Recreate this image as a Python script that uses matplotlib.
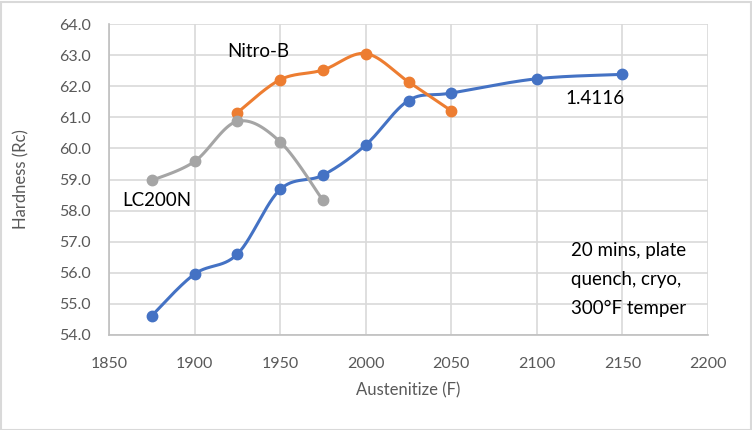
import numpy as np
import matplotlib
matplotlib.use("Agg")
from matplotlib import pyplot as plt
from matplotlib.patches import Rectangle

# data
temps_1 = [1875, 1900, 1925, 1950, 1975, 2000, 2025, 2050, 2100, 2150]
hard_1 = [54.62, 55.96, 56.60, 58.68, 59.14, 60.11, 61.54, 61.78, 62.24, 62.38]

temps_nitro = [1925, 1950, 1975, 2000, 2025, 2050]
hard_nitro = [61.15, 62.21, 62.52, 63.05, 62.14, 61.21]

temps_lc = [1875, 1900, 1925, 1950, 1975]
hard_lc = [58.97, 59.58, 60.87, 60.21, 58.33]

x_ticks = [1850, 1900, 1950, 2000, 2050, 2100, 2150, 2200]
y_ticks = [54, 55, 56, 57, 58, 59, 60, 61, 62, 63, 64]


def smooth(xs, ys, n=30):
    # Excel-style smoothed line: Catmull-Rom segments drawn as cubic Beziers
    p = np.column_stack([xs, ys]).astype(float)
    p = np.vstack([p[0], p, p[-1]])
    out = []
    t = np.linspace(0, 1, n)[:, None]
    for i in range(1, len(p) - 2):
        p0, p1, p2, p3 = p[i - 1], p[i], p[i + 1], p[i + 2]
        c1 = p1 + (p2 - p0) / 6
        c2 = p2 - (p3 - p1) / 6
        seg = ((1 - t) ** 3) * p1 + 3 * ((1 - t) ** 2) * t * c1 + 3 * (1 - t) * t ** 2 * c2 + t ** 3 * p2
        out.append(seg)
    out = np.vstack(out)
    return out[:, 0], out[:, 1]


plt.rcParams['font.family'] = ['Lato', 'DejaVu Sans']

fig = plt.figure(figsize=(7.52, 4.30), dpi=100)
ax = fig.add_axes([109 / 752, 1 - 335 / 430, (708 - 109) / 752, (335 - 24) / 430])

series = [
    (temps_1, hard_1, '#4472C4'),
    (temps_nitro, hard_nitro, '#ED7D31'),
    (temps_lc, hard_lc, '#A5A5A5'),
]
for xs, ys, col in series:
    sx, sy = smooth(xs, ys)
    ax.plot(sx, sy, color=col, lw=2.2, solid_capstyle='round', zorder=3)
    ax.plot(xs, ys, 'o', color=col, ms=7.5, zorder=4)

ax.set_xlim(1850, 2200)
ax.set_ylim(54, 64)
ax.set_xticks(x_ticks)
ax.set_yticks(y_ticks)
ax.set_yticklabels([f'{v:.1f}' for v in y_ticks])
ax.grid(True, color='#D9D9D9', lw=1.2)
ax.set_axisbelow(True)
for side in ['top', 'right']:
    ax.spines[side].set_visible(False)
for side in ['left', 'bottom']:
    ax.spines[side].set_color('#BFBFBF')
    ax.spines[side].set_linewidth(1.2)
ax.tick_params(length=0, labelsize=11.5, colors='#595959')
ax.tick_params(axis='y', pad=13)
ax.tick_params(axis='x', pad=16)

ax.set_xlabel('Austenitize (F)', fontsize=12, color='#595959', labelpad=8)
ax.set_ylabel('Hardness (Rc)', fontsize=12, color='#595959', labelpad=21)

ax.text(1937, 63.1, 'Nitro-B', fontsize=13.5, ha='center', va='center')
ax.text(1878, 58.33, 'LC200N', fontsize=13.5, ha='center', va='center')
ax.text(2134, 61.62, '1.4116', fontsize=13.5, ha='center', va='center')
ax.text(2120, 57.0, '20 mins, plate\nquench, cryo,\n300°F temper', fontsize=13.5,
        ha='left', va='top', linespacing=1.85)

fig.patches.append(Rectangle((0.5 / 752, 0.5 / 430), 750 / 752, 428 / 430, transform=fig.transFigure,
                             fill=False, edgecolor='#D9D9D9', lw=1.5))

fig.savefig('out.png', dpi=100)
